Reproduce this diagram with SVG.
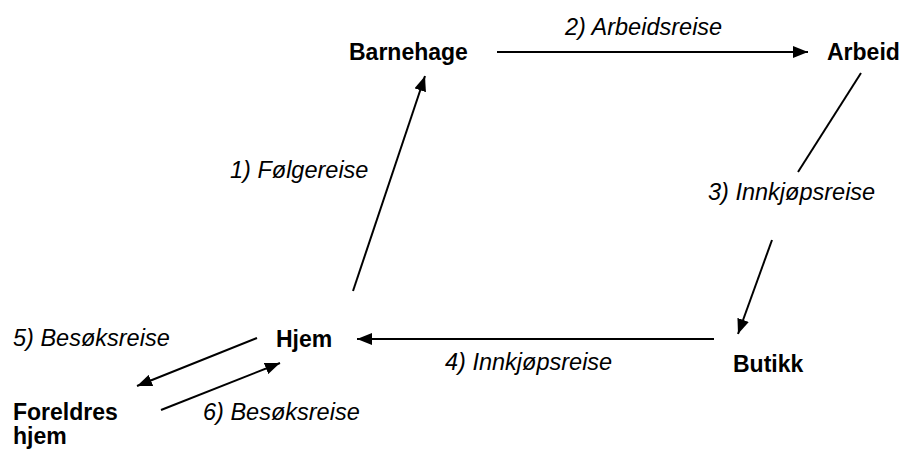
<svg xmlns="http://www.w3.org/2000/svg" width="904" height="450" viewBox="0 0 904 450">
  <defs>
    <marker id="ah" viewBox="0 0 15 12" refX="15" refY="6" markerWidth="15" markerHeight="12" markerUnits="userSpaceOnUse" orient="auto">
      <path d="M0,0 L15,6 L0,12 Z" fill="#000"/>
    </marker>
    <style>
      .node { font-family: "Liberation Sans", Arial, sans-serif; font-weight: bold; font-size: 23px; fill: #000; }
      .lbl { font-family: "Liberation Sans", Arial, sans-serif; font-style: italic; font-size: 23.5px; fill: #000; }
      .c { stroke: #000; stroke-width: 2; fill: none; }
      .a { marker-end: url(#ah); }
    </style>
  </defs>
  <rect width="904" height="450" fill="#fff"/>
  <g id="connectors">
    <line class="c a" x1="353" y1="291" x2="425" y2="76"/>
    <line class="c a" x1="497" y1="52" x2="808" y2="52"/>
    <line class="c" x1="861" y1="73" x2="798" y2="172"/>
    <line class="c a" x1="772" y1="240" x2="738" y2="334"/>
    <line class="c a" x1="714" y1="339" x2="357" y2="339"/>
    <line class="c a" x1="257" y1="338" x2="137" y2="386"/>
    <line class="c a" x1="161" y1="410" x2="280" y2="363"/>
    <text class="lbl" x="230" y="178">1) Følgereise</text>
    <text class="lbl" x="565" y="35">2) Arbeidsreise</text>
    <text class="lbl" x="708" y="200">3) Innkjøpsreise</text>
    <text class="lbl" x="445" y="370">4) Innkjøpsreise</text>
    <text class="lbl" x="13" y="346">5) Besøksreise</text>
    <text class="lbl" x="203" y="420">6) Besøksreise</text>
  </g>
  <g id="barnehage"><text class="node" x="349" y="60">Barnehage</text></g>
  <g id="arbeid"><text class="node" x="827" y="60">Arbeid</text></g>
  <g id="hjem"><text class="node" x="276" y="347">Hjem</text></g>
  <g id="butikk"><text class="node" x="733" y="372">Butikk</text></g>
  <g id="foreldres"><text class="node" x="13" y="420">Foreldres</text><text class="node" x="13" y="444">hjem</text></g>
</svg>
